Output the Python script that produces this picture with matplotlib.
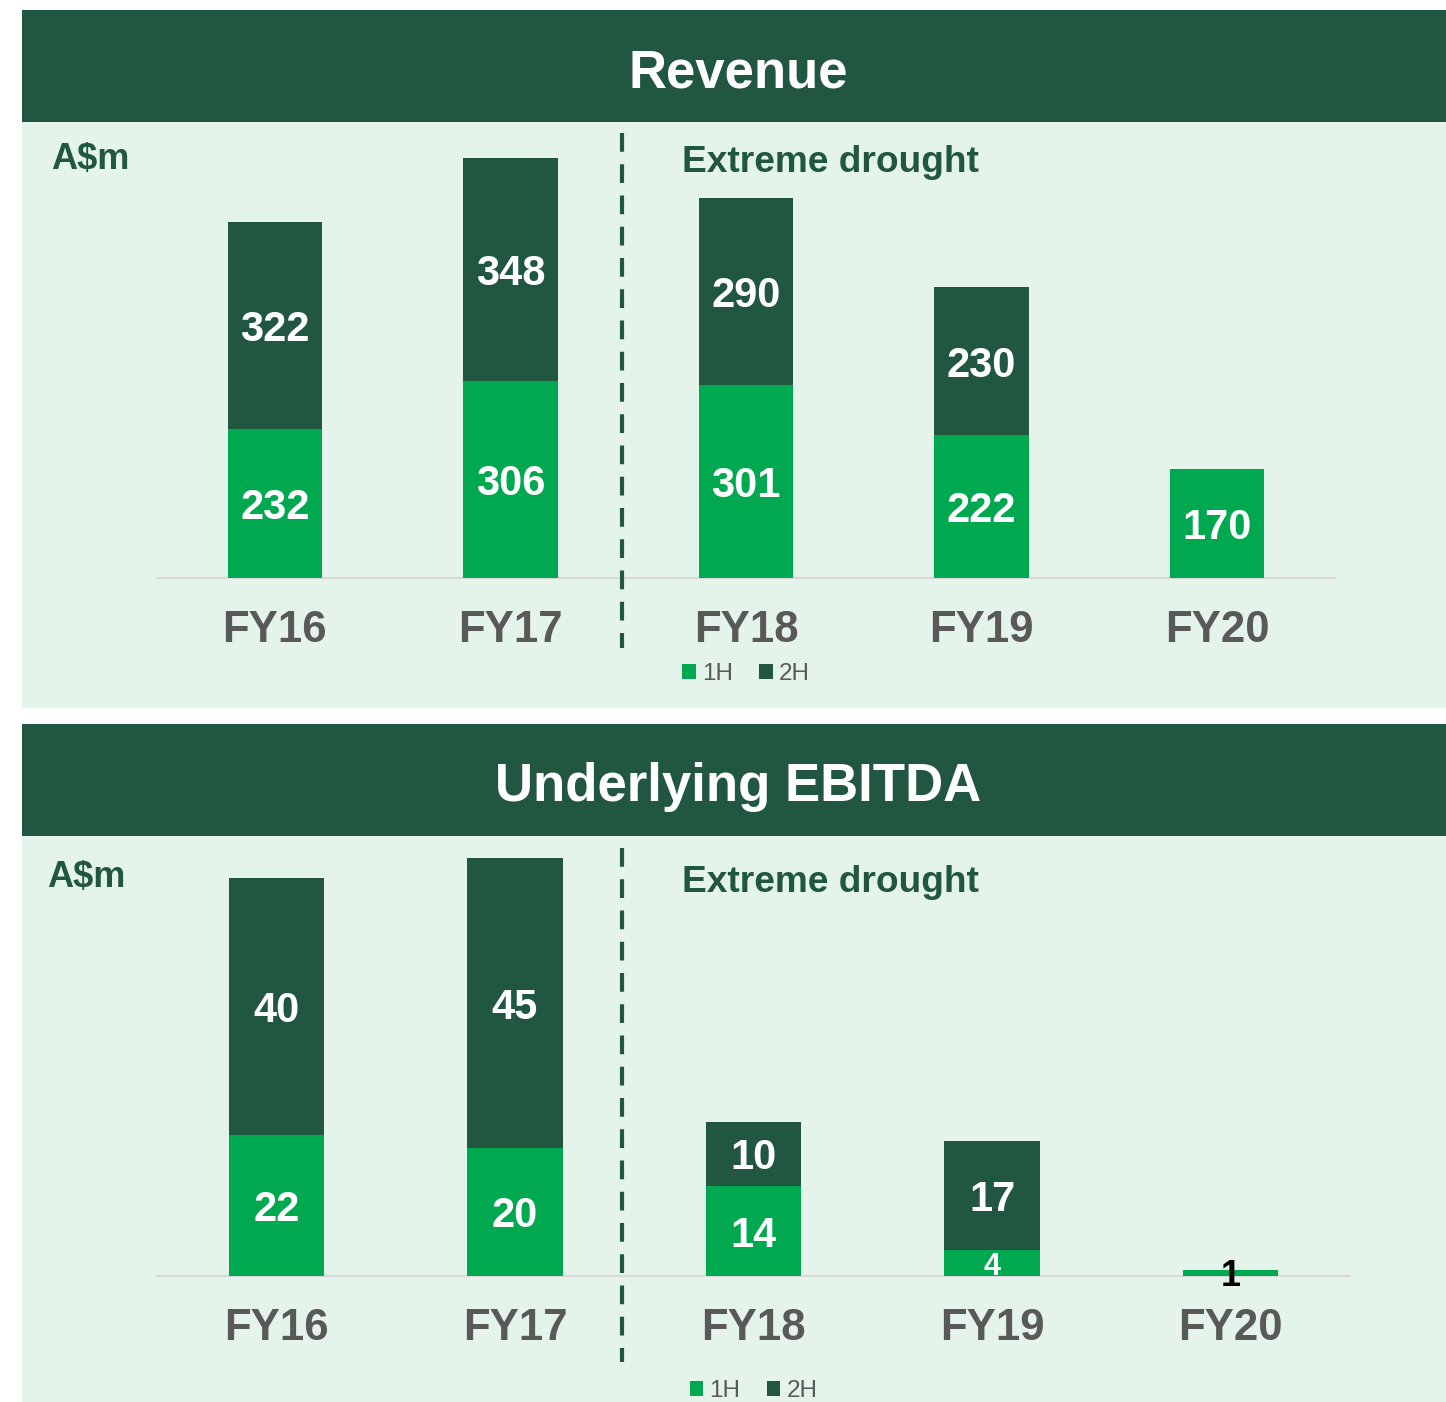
import matplotlib
matplotlib.use("Agg")
import matplotlib.pyplot as plt
from matplotlib.patches import Rectangle
from matplotlib.lines import Line2D
import numpy as np

plt.rcParams['font.family'] = ['Liberation Sans', 'DejaVu Sans']

categories = ["FY16", "FY17", "FY18", "FY19", "FY20"]
revenue_1h = [232, 306, 301, 222, 170]
revenue_2h = [322, 348, 290, 230, 0]
ebitda_1h = [22, 20, 14, 4, 1]
ebitda_2h = [40, 45, 10, 17, 0]
series_names = ["1H", "2H"]

DARK = "#215641"
LIGHT = "#00A84F"
PANEL = "#E5F4EA"
GRAY = "#595959"

W, H = 1446, 1402
fig = plt.figure(figsize=(W / 100, H / 100), dpi=100)
fig.patch.set_facecolor("white")


def fx(px):
    return px / W


def fy(py):
    return 1 - py / H


def rect(x0, y0, x1, y1, color):
    fig.patches.append(Rectangle((fx(x0), fy(y1)), fx(x1 - x0), (y1 - y0) / H,
                                 transform=fig.transFigure, facecolor=color,
                                 edgecolor="none", zorder=-5))


# panels
rect(22, 10, 1446, 122, DARK)
rect(22, 122, 1446, 708, PANEL)
rect(22, 724, 1446, 836, DARK)
rect(22, 836, 1446, 1402, PANEL)

fig.text(fx(738), fy(68), "Revenue", color="white", fontsize=38,
         fontweight="bold", ha="center", va="center_baseline")
fig.text(fx(738), fy(782), "Underlying EBITDA", color="white", fontsize=38,
         fontweight="bold", ha="center", va="center_baseline")


def make_panel(left, right, base, top, ymax, v1, v2, leg_y, small_thresh):
    ax = fig.add_axes([fx(left), fy(base), fx(right - left), (base - top) / H])
    ax.set_facecolor("none")
    ax.set_zorder(2)
    x = np.arange(len(categories))
    ax.bar(x, v1, width=0.4, color=LIGHT, label=series_names[0], zorder=2)
    ax.bar(x, v2, width=0.4, bottom=v1, color=DARK, label=series_names[1], zorder=2)
    ax.set_xlim(-0.5, len(categories) - 0.5)
    ax.set_ylim(0, ymax)
    ax.set_yticks([])
    for s in ["top", "right", "left"]:
        ax.spines[s].set_visible(False)
    ax.spines["bottom"].set_color("#D9D9D9")
    ax.spines["bottom"].set_linewidth(1.5)
    ax.spines["bottom"].set_zorder(1)
    ax.set_xticks(x)
    ax.set_xticklabels(categories, fontsize=31.5, fontweight="bold", color=GRAY)
    ax.tick_params(axis="x", length=0, pad=23)
    for i in range(len(categories)):
        a, b = v1[i], v2[i]
        if a > 0:
            if a <= small_thresh[0]:
                col = "black" if a <= small_thresh[1] else "white"
                fs = 22 if col == "white" else 26
            else:
                col, fs = "white", 30
            ax.text(i, a / 2, str(a), ha="center", va="center_baseline", color=col,
                    fontsize=fs, fontweight="bold", zorder=3)
        if b > 0:
            ax.text(i, a + b / 2, str(b), ha="center", va="center_baseline",
                    color="white", fontsize=30, fontweight="bold", zorder=3)
    leg = ax.legend(loc="center", bbox_to_anchor=(0.5, -(leg_y - base) / (base - top)),
                    ncol=2, frameon=False, fontsize=17.5, handlelength=0.55,
                    handleheight=0.55, handletextpad=0.25, columnspacing=1.1)
    for t in leg.get_texts():
        t.set_color(GRAY)
    return ax


make_panel(157, 1335, 578, 130, 697, revenue_1h, revenue_2h, 674, (0, -1))
make_panel(157, 1350, 1276, 845, 67.1, ebitda_1h, ebitda_2h, 1391, (5, 1))

# labels
fig.text(fx(51), fy(160), "A$m", color=DARK, fontsize=26, fontweight="bold",
         ha="left", va="center")
fig.text(fx(47), fy(877), "A$m", color=DARK, fontsize=26, fontweight="bold",
         ha="left", va="center")
fig.text(fx(682), fy(163), "Extreme drought", color=DARK, fontsize=26.7,
         fontweight="bold", ha="left", va="center")
fig.text(fx(682), fy(882), "Extreme drought", color=DARK, fontsize=26.7,
         fontweight="bold", ha="left", va="center")

# dashed separators
for y0, y1 in [(133, 648), (848, 1362)]:
    fig.add_artist(Line2D([fx(622), fx(622)], [fy(y0), fy(y1)],
                          transform=fig.transFigure, color=DARK, linewidth=3,
                          linestyle=(0, (4.5, 3)), zorder=5))

fig.savefig("out.png", dpi=100)
